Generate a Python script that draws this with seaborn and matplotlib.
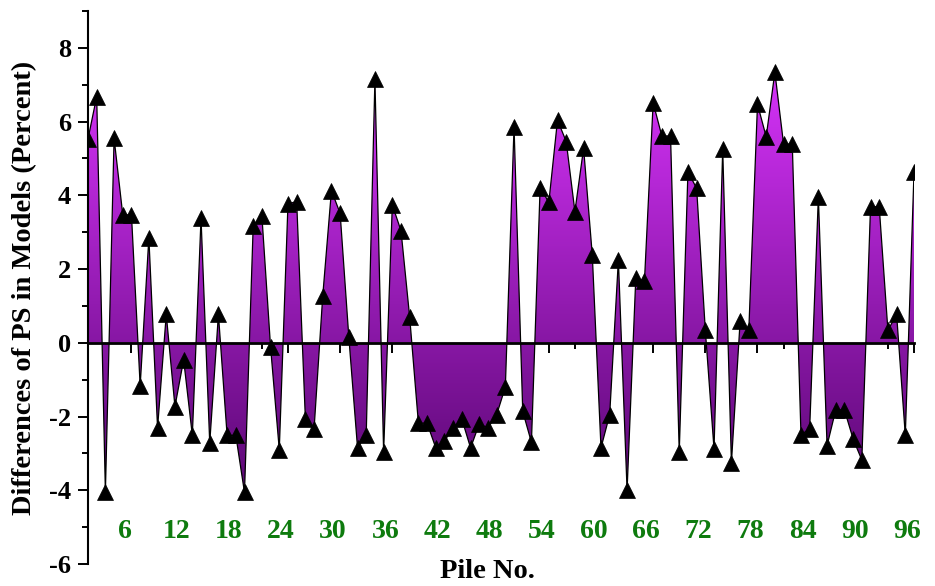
import numpy as np
import pandas as pd
import matplotlib
matplotlib.use("Agg")
import matplotlib.pyplot as plt
import seaborn as sns
from matplotlib.colors import LinearSegmentedColormap
from matplotlib.ticker import MultipleLocator
from matplotlib.transforms import ScaledTranslation

# pile numbers 1..96 and the read-off differences (percent)
piles = list(range(1, 97))
diffs = [
    5.53, 6.68, -4.06, 5.55, 3.47, 3.47, -1.17, 2.85, -2.31, 0.77,
    -1.73, -0.46, -2.51, 3.38, -2.72, 0.77, -2.51, -2.51, -4.06, 3.18,
    3.44, -0.12, -2.90, 3.77, 3.83, -2.06, -2.34, 1.28, 4.13, 3.51,
    0.15, -2.85, -2.49, 7.15, -2.97, 3.74, 3.04, 0.69, -2.18, -2.18,
    -2.85, -2.66, -2.31, -2.07, -2.85, -2.20, -2.31, -1.95, -1.20, 5.86,
    -1.86, -2.70, 4.21, 3.81, 6.04, 5.46, 3.56, 5.28, 2.38, -2.85,
    -1.95, 2.25, -4.00, 1.75, 1.68, 6.51, 5.61, 5.61, -2.97, 4.64,
    4.19, 0.34, -2.88, 5.25, -3.26, 0.58, 0.34, 6.47, 5.59, 7.34,
    5.39, 5.39, -2.49, -2.34, 3.96, -2.79, -1.82, -1.82, -2.61, -3.18,
    3.69, 3.69, 0.34, 0.77, -2.51, 4.62,
]
xtick_vals = list(range(6, 97, 6))
ytick_vals = list(range(-6, 9, 2))

df = pd.DataFrame({"Pile": piles, "Diff": diffs})

sns.set_style("ticks", {"axes.edgecolor": "black", "xtick.color": "black",
                        "ytick.color": "black", "text.color": "black",
                        "axes.labelcolor": "black"})
plt.rcParams["font.family"] = ["Liberation Serif", "DejaVu Serif"]
plt.rcParams["font.weight"] = "bold"
plt.rcParams["axes.unicode_minus"] = False

fig = plt.figure(figsize=(9.35, 5.86), dpi=100)
ax = fig.add_axes([88 / 935, 22 / 586, 826 / 935, 553 / 586])

# gradient fill between the curve and zero
fill = ax.fill_between(df["Pile"], df["Diff"], 0, facecolor="none", lw=0)
cmap = LinearSegmentedColormap.from_list("pur", ["#5c0875", "#d633fa"])
grad = np.linspace(-4.3, 7.6, 256).reshape(-1, 1)
im = ax.imshow(grad, cmap=cmap, vmin=-4.1, vmax=7.5, origin="lower",
               extent=[1, 96, -4.3, 7.6], aspect="auto", zorder=1)
im.set_clip_path(fill.get_paths()[0], ax.transData)

# line with triangle markers
sns.lineplot(data=df, x="Pile", y="Diff", ax=ax, color="black", lw=0.9,
             marker="^", markersize=11.5, markeredgecolor="black",
             markeredgewidth=0.5, zorder=3)

ax.set_xlim(1, 96)
ax.set_ylim(-6, 9)

# spines: left axis and zero line
ax.spines["top"].set_visible(False)
ax.spines["right"].set_visible(False)
ax.spines["bottom"].set_position(("data", 0))
ax.spines["bottom"].set_linewidth(2.0)
ax.spines["bottom"].set_zorder(4)
ax.spines["left"].set_linewidth(1.5)

ax.set_yticks(ytick_vals)
ax.yaxis.set_minor_locator(MultipleLocator(1))
ax.set_xticks(xtick_vals)
ax.xaxis.set_minor_locator(MultipleLocator(3))
ax.tick_params(axis="both", which="major", direction="out", length=7.2, width=1.4)
ax.tick_params(axis="both", which="minor", direction="out", length=4, width=1.4)
ax.tick_params(axis="y", which="major", labelsize=19, pad=5)
ax.tick_params(axis="x", which="major", labelsize=20, pad=120,
               labelcolor="#0e7b0e")

for lab in ax.get_xticklabels():
    lab.set_transform(lab.get_transform() + ScaledTranslation(-7 / 100, 0, fig.dpi_scale_trans))

ax.set_xlabel("Pile No.", fontsize=20.5, fontweight="bold")
ax.set_ylabel("Differences of PS in Models (Percent)", fontsize=20.5, fontweight="bold")
ax.xaxis.set_label_coords(0.483, 0.009)
ax.yaxis.set_label_coords(-0.062, 0.5)

fig.savefig("out.png", dpi=100)
